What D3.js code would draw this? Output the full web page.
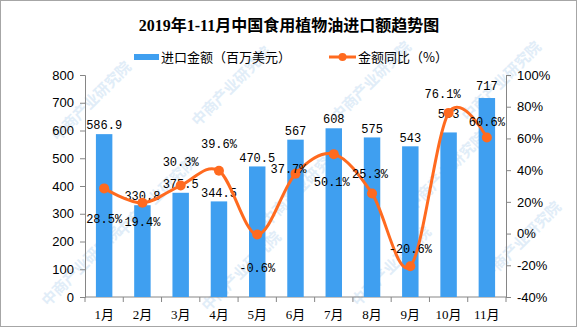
<!DOCTYPE html>
<html>
<head>
<meta charset="utf-8">
<script src="https://cdn.jsdelivr.net/npm/d3@7"></script>
<style>
  body { margin: 0; background: #fff; }
  svg { display: block; }
</style>
</head>
<body>
<div id="chart"></div>
<script>
// chart data
var months = ["1月", "2月", "3月", "4月", "5月", "6月", "7月", "8月", "9月", "10月", "11月"];
var importValue = [586.9, 330.8, 375.5, 344.5, 470.5, 567, 608, 575, 543, 593, 717];
var yoyPct = [28.5, 19.4, 30.3, 39.6, -0.6, 37.7, 50.1, 25.3, -20.6, 76.1, 60.6];
var leftTicks = [0, 100, 200, 300, 400, 500, 600, 700, 800];
var rightTicks = [-40, -20, 0, 20, 40, 60, 80, 100];

// label placement (pixel offsets from the point)
var pctLabelDx = [0, 0, 0, 0, 0, -7, -2, -2, 0, -6, 0];
var pctLabelDy = [30, 19, -24, -27, 33, -5, 28, -20, -17, -19, -16];
var valLabelDy = [-9, -9, -9, -9, -9, -9, -9, -9, -9, -19, -12];

var svgWidth = 577;
var svgHeight = 327;
var margin = { top: 75, right: 71, bottom: 30, left: 85 };
var width = svgWidth - margin.left - margin.right;
var height = svgHeight - margin.top - margin.bottom;

var barColor = "#3f9ff0";
var lineColor = "#ff6a1f";

var svg = d3.select("#chart")
    .append("svg")
    .attr("width", svgWidth)
    .attr("height", svgHeight);

// outer frame
svg.append("rect")
    .attr("x", 0.5).attr("y", 0.5)
    .attr("width", svgWidth - 1).attr("height", svgHeight - 1)
    .attr("fill", "#fff")
    .attr("stroke", "#a6a6a6");

// faint watermark, kept inside the frame
var marks = [[95, 105], [235, 90], [375, 85], [505, 85], [160, 200], [305, 190], [450, 175], [85, 270], [245, 275], [395, 270], [525, 245]];
marks.forEach(function(m) {
    svg.append("text")
        .attr("transform", `translate(${m[0]},${m[1]}) rotate(-45)`)
        .attr("text-anchor", "middle")
        .attr("font-family", "Noto Sans CJK SC")
        .attr("font-size", "15px")
        .attr("font-weight", "bold")
        .attr("fill", "#e1edf8")
        .text("中商产业研究院");
});

var chartGroup = svg.append("g")
    .attr("transform", `translate(${margin.left},${margin.top})`);

// scales
var xScale = d3.scaleBand()
    .domain(months)
    .range([0, width])
    .paddingInner(0.57)
    .paddingOuter(0.285);

var yLeft = d3.scaleLinear().domain([0, 800]).range([height, 0]);
var yRight = d3.scaleLinear().domain([-40, 100]).range([height, 0]);

// axes
var leftAxis = d3.axisLeft(yLeft).tickValues(leftTicks).tickSize(5).tickPadding(6);
var rightAxis = d3.axisRight(yRight).tickValues(rightTicks).tickSize(5).tickPadding(6)
    .tickFormat(d => d + "%");

var gl = chartGroup.append("g").call(leftAxis);
var gr = chartGroup.append("g").attr("transform", `translate(${width},0)`).call(rightAxis);

[gl, gr].forEach(function(g) {
    g.select(".domain").attr("stroke", "#868686");
    g.selectAll(".tick line").attr("stroke", "#868686");
    g.selectAll(".tick text")
        .attr("font-family", "Liberation Sans, Arial, sans-serif")
        .attr("font-size", "13px")
        .attr("fill", "#000");
});

// bottom axis: baseline with ticks between categories
var bottom = chartGroup.append("g").attr("transform", `translate(0,${height})`);
bottom.append("line")
    .attr("x1", 0).attr("x2", width)
    .attr("stroke", "#868686");
d3.range(months.length + 1).forEach(function(i) {
    bottom.append("line")
        .attr("x1", i * width / months.length).attr("x2", i * width / months.length)
        .attr("y1", 0).attr("y2", 5)
        .attr("stroke", "#868686");
});
bottom.selectAll("text.xl")
    .data(months)
    .enter()
    .append("text")
    .attr("class", "xl")
    .attr("x", d => xScale(d) + xScale.bandwidth() / 2)
    .attr("y", 22)
    .attr("text-anchor", "middle")
    .attr("font-family", "Liberation Serif, Noto Sans CJK SC, serif")
    .attr("font-size", "13px")
    .text(d => d);

// bars
chartGroup.selectAll("rect.bar")
    .data(importValue)
    .enter()
    .append("rect")
    .attr("class", "bar")
    .attr("x", (d, i) => xScale(months[i]))
    .attr("y", d => yLeft(d))
    .attr("width", xScale.bandwidth())
    .attr("height", d => height - yLeft(d))
    .attr("fill", barColor);

// bar labels
chartGroup.selectAll("text.vl")
    .data(importValue)
    .enter()
    .append("text")
    .attr("class", "vl")
    .attr("x", (d, i) => xScale(months[i]) + xScale.bandwidth() / 2)
    .attr("y", (d, i) => yLeft(d) + valLabelDy[i])
    .attr("dy", "0.35em")
    .attr("text-anchor", "middle")
    .attr("font-family", "Liberation Mono, monospace")
    .attr("font-size", "12px")
    .text(d => d);

// line
var cx = (d, i) => xScale(months[i]) + xScale.bandwidth() / 2;
var line = d3.line()
    .x(cx)
    .y(d => yRight(d))
    .curve(d3.curveCardinal);

chartGroup.append("path")
    .datum(yoyPct)
    .attr("d", line)
    .attr("fill", "none")
    .attr("stroke", lineColor)
    .attr("stroke-width", 3);

chartGroup.selectAll("circle")
    .data(yoyPct)
    .enter()
    .append("circle")
    .attr("cx", cx)
    .attr("cy", d => yRight(d))
    .attr("r", 5)
    .attr("fill", lineColor);

chartGroup.selectAll("text.pl")
    .data(yoyPct)
    .enter()
    .append("text")
    .attr("class", "pl")
    .attr("x", (d, i) => cx(d, i) + pctLabelDx[i])
    .attr("y", (d, i) => yRight(d) + pctLabelDy[i])
    .attr("dy", "0.35em")
    .attr("text-anchor", "middle")
    .attr("font-family", "Liberation Mono, monospace")
    .attr("font-size", "12px")
    .text(d => d.toFixed(1) + "%");

// title
svg.append("text")
    .attr("x", 289)
    .attr("y", 25)
    .attr("dy", "0.35em")
    .attr("text-anchor", "middle")
    .attr("font-family", "Liberation Serif, Noto Sans CJK SC, serif")
    .attr("font-size", "16px")
    .attr("font-weight", "bold")
    .text("2019年1-11月中国食用植物油进口额趋势图");

// legend
var legend = svg.append("g").attr("transform", "translate(0,57)");
legend.append("line")
    .attr("x1", 134).attr("x2", 159)
    .attr("stroke", barColor).attr("stroke-width", 6);
legend.append("text")
    .attr("x", 161).attr("dy", "0.35em")
    .attr("font-family", "Noto Sans CJK SC")
    .attr("font-size", "13px")
    .text("进口金额（百万美元）");
legend.append("line")
    .attr("x1", 329).attr("x2", 356)
    .attr("stroke", lineColor).attr("stroke-width", 3);
legend.append("circle")
    .attr("cx", 342.5).attr("r", 4)
    .attr("fill", lineColor);
legend.append("text")
    .attr("x", 358).attr("dy", "0.35em")
    .attr("font-family", "Noto Sans CJK SC")
    .attr("font-size", "13px")
    .text("金额同比（%）");
</script>
</body>
</html>
